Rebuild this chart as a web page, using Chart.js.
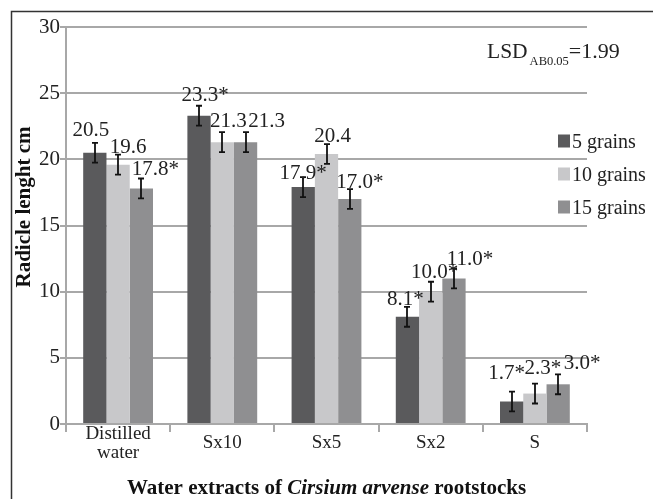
<!DOCTYPE html>
<html>
<head>
<meta charset="utf-8">
<script src="https://cdn.jsdelivr.net/npm/chart.js@4.4.1/dist/chart.umd.min.js"></script>
<style>
  html, body { margin: 0; padding: 0; background: #fff; }
  #wrap { width: 653px; height: 499px; position: relative; }
</style>
</head>
<body>
<div id="wrap"><canvas id="c" width="653" height="499"></canvas></div>
<script>
// Radicle length (cm) by water extract and number of grains
const categories = [['Distilled', 'water'], 'Sx10', 'Sx5', 'Sx2', 'S'];
const seriesNames = ['5 grains', '10 grains', '15 grains'];

const grains5  = [20.5, 23.3, 17.9, 8.1, 1.7];
const grains10 = [19.6, 21.3, 20.4, 10.0, 2.3];
const grains15 = [17.8, 21.3, 17.0, 11.0, 3.0];

// error bar half-lengths (cm)
const err5  = [0.75, 0.75, 0.75, 0.75, 0.75];
const err10 = [0.75, 0.75, 0.75, 0.75, 0.75];
const err15 = [0.75, 0.75, 0.75, 0.75, 0.75];

// significance marks (*) per bar
const sig5  = [false, true, true, true, true];
const sig10 = [false, false, false, true, true];
const sig15 = [true, false, true, true, true];

const yTicks = [0, 5, 10, 15, 20, 25, 30];
const lsdText = { main: 'LSD', sub: 'AB0.05', tail: '=1.99' };

// label placement tweaks (px) relative to each bar's centre / top
const labelShiftX = [[-4, 6, 0, -2, -5], [10, 6, 6, 4, 8], [14, 21, 10, 16, 24]];
const labelLift   = [[24, 22, 15.5, 19, 29.5], [19, 21.7, 19, 21, 26.6], [20, 21.7, 17.7, 20.5, 22]];

const colors = ['#5a5a5c', '#c8c8ca', '#8f8f91'];
const gridColor = '#a8a8a8';
const serif = "'Liberation Serif', 'Times New Roman', serif";

const values = [grains5, grains10, grains15];
const errors = [err5, err10, err15];
const sigs = [sig5, sig10, sig15];

const extras = {
  id: 'extras',
  afterDatasetsDraw(chart) {
    const ctx = chart.ctx;
    const y = chart.scales.y;
    ctx.save();

    // error bars
    ctx.strokeStyle = '#111';
    ctx.lineWidth = 1.8;
    values.forEach((vals, d) => {
      const meta = chart.getDatasetMeta(d);
      meta.data.forEach((bar, i) => {
        const top = y.getPixelForValue(vals[i] + errors[d][i]);
        const bot = y.getPixelForValue(vals[i] - errors[d][i]);
        const x = Math.round(bar.x);
        ctx.beginPath();
        ctx.moveTo(x, top); ctx.lineTo(x, bot);
        ctx.moveTo(x - 3, top); ctx.lineTo(x + 3, top);
        ctx.moveTo(x - 3, bot); ctx.lineTo(x + 3, bot);
        ctx.stroke();
      });
    });

    // value labels
    ctx.fillStyle = '#222';
    ctx.font = '21px ' + serif;
    ctx.textAlign = 'center';
    ctx.textBaseline = 'alphabetic';
    values.forEach((vals, d) => {
      const meta = chart.getDatasetMeta(d);
      meta.data.forEach((bar, i) => {
        const txt = vals[i].toFixed(1) + (sigs[d][i] ? '*' : '');
        const cy = bar.y - labelLift[d][i];
        ctx.fillText(txt, bar.x + labelShiftX[d][i], cy + 7);
      });
    });

    // legend
    const lx = chart.chartArea.right - 29;
    const rows = [141, 174, 207];
    ctx.textAlign = 'left';
    ctx.font = '20px ' + serif;
    seriesNames.forEach((name, d) => {
      ctx.fillStyle = colors[d];
      ctx.fillRect(lx, rows[d] - 6.5, 12, 13);
      ctx.fillStyle = '#222';
      ctx.fillText(name, lx + 14, rows[d] + 7);
    });

    // LSD note
    ctx.fillStyle = '#222';
    ctx.font = '21.5px ' + serif;
    let tx = 487;
    ctx.fillText(lsdText.main, tx, 58);
    tx += ctx.measureText(lsdText.main).width + 2;
    ctx.font = '12.5px ' + serif;
    ctx.fillText(lsdText.sub, tx, 65);
    tx += ctx.measureText(lsdText.sub).width;
    ctx.font = '22px ' + serif;
    ctx.fillText(lsdText.tail, tx, 58);

    // x axis title with italic species name
    const parts = [
      { t: 'Water extracts of ', f: 'bold 21px ' + serif },
      { t: 'Cirsium arvense', f: 'italic bold 21px ' + serif },
      { t: ' rootstocks', f: 'bold 21px ' + serif }
    ];
    let total = 0;
    parts.forEach(p => { ctx.font = p.f; p.w = ctx.measureText(p.t).width; total += p.w; });
    let px = (chart.chartArea.left + chart.chartArea.right) / 2 - total / 2;
    ctx.fillStyle = '#111';
    parts.forEach(p => { ctx.font = p.f; ctx.fillText(p.t, px, 494); px += p.w; });

    // y axis title
    ctx.save();
    ctx.translate(30, 207);
    ctx.rotate(-Math.PI / 2);
    ctx.textAlign = 'center';
    ctx.font = 'bold 21px ' + serif;
    ctx.fillText('Radicle lenght cm', 0, 0);
    ctx.restore();

    // outer frame
    ctx.strokeStyle = '#333';
    ctx.lineWidth = 1.5;
    ctx.beginPath();
    ctx.moveTo(11.5, 499);
    ctx.lineTo(11.5, 11.5);
    ctx.lineTo(653, 11.5);
    ctx.stroke();

    ctx.restore();
  }
};

new Chart(document.getElementById('c'), {
  type: 'bar',
  data: {
    labels: categories,
    datasets: seriesNames.map((name, d) => ({
      label: name,
      data: values[d],
      backgroundColor: colors[d],
      borderWidth: 0,
      categoryPercentage: 0.67,
      barPercentage: 1.0
    }))
  },
  options: {
    responsive: false,
    animation: false,
    devicePixelRatio: 1,
    layout: { padding: { left: 0, right: 66, top: 27, bottom: 0 } },
    plugins: { legend: { display: false }, tooltip: { enabled: false } },
    scales: {
      x: {
        grid: { display: true, drawOnChartArea: false, drawTicks: true, tickLength: 8, color: gridColor, lineWidth: 2, offset: true },
        border: { color: gridColor, width: 2 },
        ticks: { font: { family: serif, size: 19, lineHeight: 1.0 }, color: '#222', crossAlign: 'center', padding: 2, maxRotation: 0, autoSkip: false },
        afterFit: s => { s.height = 75; }
      },
      y: {
        min: 0, max: 30,
        afterBuildTicks: s => { s.ticks = yTicks.map(v => ({ value: v })); },
        grid: { color: gridColor, lineWidth: 2, tickLength: 6 },
        border: { color: gridColor, width: 2 },
        ticks: { font: { family: serif, size: 21 }, color: '#222', padding: 0 },
        afterFit: s => { s.width = 66; }
      }
    }
  },
  plugins: [extras]
});
</script>
</body>
</html>
